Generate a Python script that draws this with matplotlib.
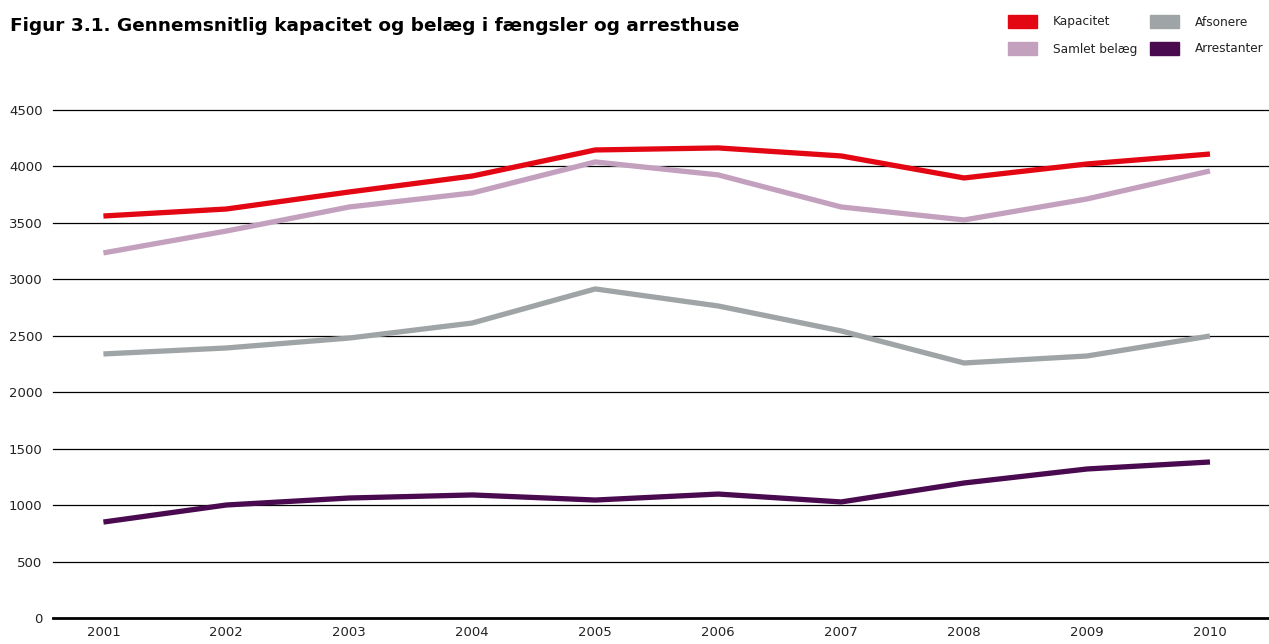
import matplotlib.pyplot as plt
from matplotlib.patches import Rectangle
from matplotlib import font_manager

years = [2001, 2002, 2003, 2004, 2005, 2006, 2007, 2008, 2009, 2010]
kapacitet = [3561, 3623, 3774, 3915, 4146, 4164, 4093, 3898, 4022, 4110]
samlet_belaeg = [3234, 3428, 3641, 3765, 4040, 3925, 3641, 3526, 3712, 3960]
afsonere = [2339, 2392, 2480, 2613, 2915, 2764, 2543, 2259, 2321, 2498]
arrestanter = [850, 1001, 1063, 1090, 1045, 1098, 1028, 1196, 1320, 1382]
yticks = [0, 500, 1000, 1500, 2000, 2500, 3000, 3500, 4000, 4500]

series = [
    ("Kapacitet", kapacitet, "#e30613"),
    ("Samlet belæg", samlet_belaeg, "#c4a0bf"),
    ("Afsonere", afsonere, "#9fa5a6"),
    ("Arrestanter", arrestanter, "#4a0a4f"),
]

names = {f.name for f in font_manager.fontManager.ttflist}
if "Liberation Sans Narrow" in names:
    title_font, title_size = "Liberation Sans Narrow", 15.5
else:
    title_font, title_size = "DejaVu Sans", 13.3

W, H = 1269, 644
fig = plt.figure(figsize=(W / 100, H / 100), dpi=100)
ax = fig.add_axes([53 / W, 1 - 618 / H, (W - 53) / W, (618 - 110) / H])

for y in yticks[1:]:
    ax.axhline(y, color="black", linewidth=0.9, zorder=1, clip_on=False)
ax.axhline(0, color="black", linewidth=2.0, zorder=1, clip_on=False)

for name, vals, col in series[::-1]:
    ax.plot(years, vals, color=col, linewidth=3.8, solid_capstyle="butt", zorder=3)

ax.set_xlim(2000.59, 2010.48)
ax.set_ylim(0, 4500)
for s in ax.spines.values():
    s.set_visible(False)
ax.set_yticks(yticks)
ax.set_xticks(years)
ax.tick_params(length=0, labelsize=9.5, colors="#222222")
ax.tick_params(axis="y", pad=7.5)
ax.tick_params(axis="x", pad=6)

fig.text(10 / W, 1 - 26 / H, "Figur 3.1. Gennemsnitlig kapacitet og belæg i fængsler og arresthuse",
         fontsize=title_size, fontweight="bold", family=title_font, va="center", ha="left")

# legend, two columns
pos = [(1008, 22), (1008, 49), (1150, 22), (1150, 49)]
for (name, vals, col), (px, py) in zip(series, pos):
    fig.patches.append(Rectangle((px / W, 1 - (py + 6) / H), 29 / W, 13 / H,
                                 transform=fig.transFigure, color=col))
    fig.text((px + 45) / W, 1 - py / H, name, fontsize=8.7, va="center", ha="left",
             color="#222222")

fig.savefig("out.png", dpi=100)
